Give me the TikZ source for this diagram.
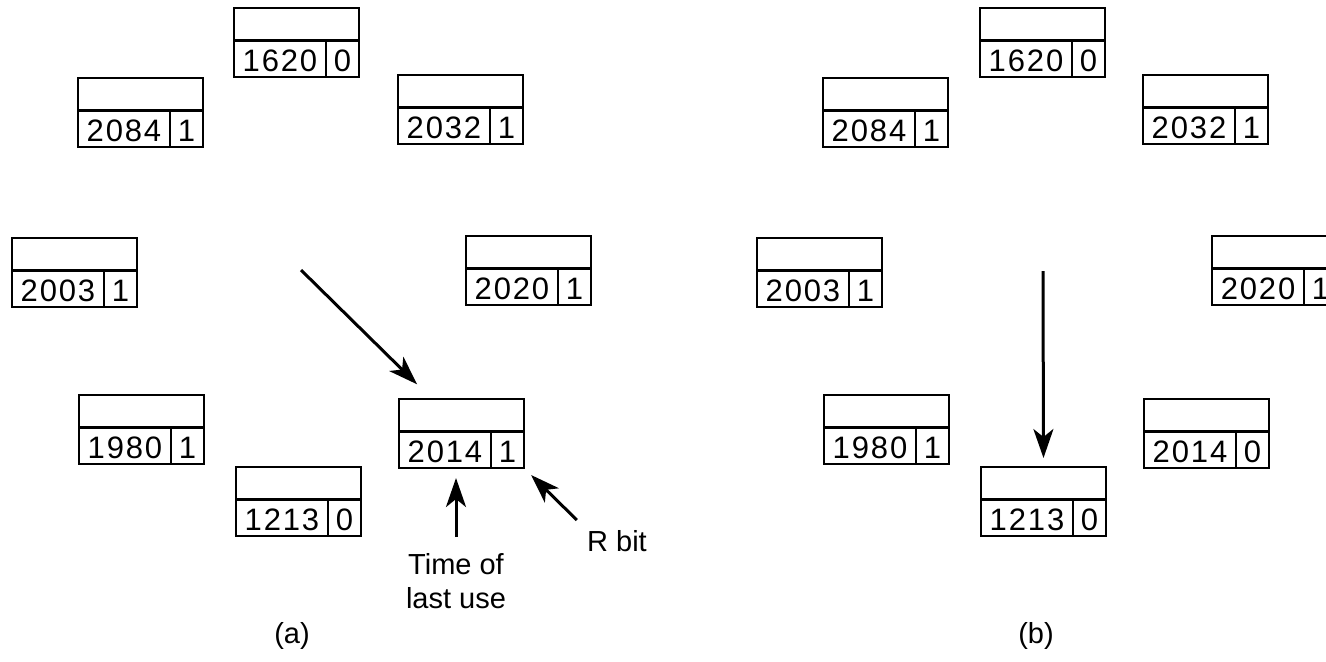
\documentclass[tikz,border=0pt]{standalone}
\usepackage{fontspec}
\setmainfont{Liberation Sans}
\newfontfamily\digitfont[LetterSpace=6]{Liberation Sans}
\usetikzlibrary{arrows.meta}
\tikzset{
  frame/.style={draw,line width=1.4pt,minimum width=62.5pt,minimum height=34.5pt,
    inner sep=0pt,outer sep=0pt,anchor=north west},
  divider/.style={line width=1.1pt},
  timecell/.style={font=\fontsize{15.5}{18}\digitfont,anchor=base,inner sep=0pt},
  bitcell/.style={font=\fontsize{15.5}{18}\selectfont,anchor=base,inner sep=0pt},
  lbl/.style={font=\fontsize{14.5}{17}\selectfont,align=center},
  hand/.style={line width=1.5pt,-{Stealth[length=14.5pt,width=10pt,inset=4pt]}}
}
\begin{document}
\begin{tikzpicture}[x=0.5pt,y=-0.5pt]
  \useasboundingbox (0,0) rectangle (1326,661);
  \foreach \nm/\x/\y/\t/\r in {a1620/234/8/1620/0, a2084/78/78/2084/1, a2032/398/75/2032/1,
      a2003/12/238/2003/1, a2020/466/236/2020/1, a1980/79/395/{1980\hspace{6pt}}/1,
      a1213/236/467/1213/0, a2014/399/399/2014/1,
      b1620/980/8/1620/0, b2084/823/78/2084/1, b2032/1143/75/2032/1,
      b2003/757/238/2003/1, b2020/1212/236/2020/1, b1980/824/395/{1980\hspace{6pt}}/1,
      b1213/981/467/1213/0, b2014/1144/399/2014/0} {
    \node[frame] (\nm) at (\x,\y) {};
    \draw[divider] (\x,\y+32.5) -- (\x+125,\y+32.5);
    \draw[divider] (\x+92,\y+32.5) -- (\x+92,\y+69);
    \node[timecell] (\nm-t) at (\x+46,\y+63) {\t};
    \node[bitcell] (\nm-r) at (\x+108.5,\y+63) {\r};
  }
  \coordinate (hubA) at (301,270);
  \coordinate (hubB) at (1043,271);
  \draw[hand,shorten >=10.5pt] (hubA) -- ([xshift=16.5pt]a2014.north west);
  \draw[hand,shorten >=4.5pt] (hubB) -- (b1213.north);
  \node[lbl,inner sep=8pt,anchor=north] (timelbl) at (456,537) {Time of\\last use};
  \draw[hand,shorten >=5pt] (timelbl.north) -- (timelbl.north |- a2014.south);
  \node[lbl,inner sep=5pt] (rbitlbl) at (617,541) {R bit};
  \draw[hand,shorten >=5pt] (rbitlbl.north west) -- (a2014.south east);
  \node[lbl,anchor=base] (capa) at (292,643) {(a)};
  \node[lbl,anchor=base] (capb) at (1036,643) {(b)};
\end{tikzpicture}
\end{document}
